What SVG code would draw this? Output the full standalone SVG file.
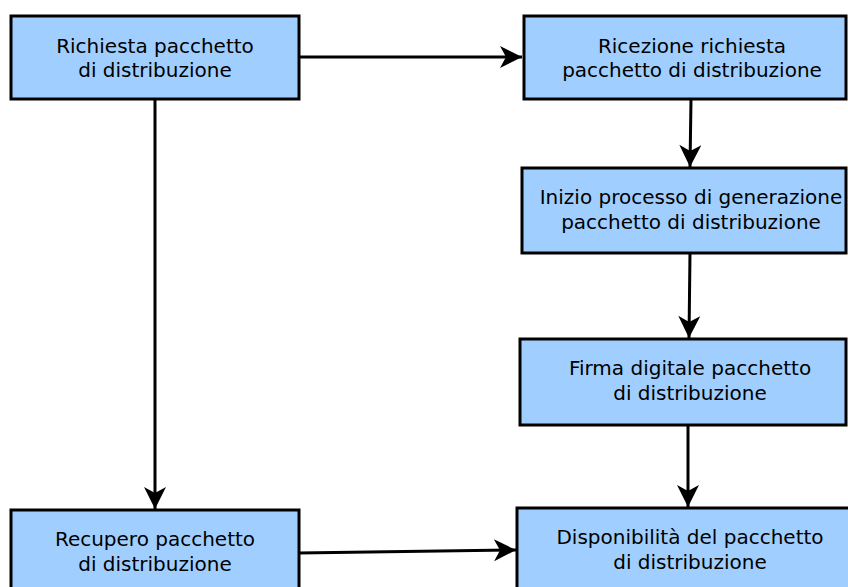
<svg xmlns="http://www.w3.org/2000/svg" width="848" height="587" viewBox="0 0 848 587">
<style>
.box{fill:#a0cfff;stroke:#000;stroke-width:3}
.t{font-family:"DejaVu Sans",sans-serif;font-size:20px;fill:#000;text-anchor:middle}
.c{fill:none;stroke:#000;stroke-width:3}
</style>
<defs>
<marker id="ah" markerUnits="userSpaceOnUse" markerWidth="26" markerHeight="26" refX="23" refY="12" orient="auto">
<path d="M23,12 L1,1 L7,12 L1,23 Z" fill="#000"/>
</marker>
</defs>
<rect width="848" height="587" fill="#fff"/>
<g id="connectors">
<line class="c" x1="299" y1="57" x2="522" y2="57" marker-end="url(#ah)"/>
<line class="c" x1="155" y1="99" x2="155" y2="509" marker-end="url(#ah)"/>
<line class="c" x1="691" y1="99" x2="690" y2="167" marker-end="url(#ah)"/>
<line class="c" x1="690" y1="253" x2="689" y2="338" marker-end="url(#ah)"/>
<line class="c" x1="688" y1="425" x2="688" y2="507" marker-end="url(#ah)"/>
<line class="c" x1="299" y1="553" x2="516" y2="550" marker-end="url(#ah)"/>
</g>
<g id="n1"><rect class="box" x="11" y="16" width="288" height="83"/>
<text class="t" x="155" y="53">Richiesta pacchetto</text><text class="t" x="155" y="77">di distribuzione</text></g>
<g id="n2"><rect class="box" x="524" y="16" width="322" height="83"/>
<text class="t" x="692" y="53">Ricezione richiesta</text><text class="t" x="692" y="77">pacchetto di distribuzione</text></g>
<g id="n3"><rect class="box" x="522" y="168" width="324" height="85"/>
<text class="t" x="691" y="204">Inizio processo di generazione</text><text class="t" x="691" y="229">pacchetto di distribuzione</text></g>
<g id="n4"><rect class="box" x="520" y="339" width="326" height="86"/>
<text class="t" x="690" y="375">Firma digitale pacchetto</text><text class="t" x="690" y="400">di distribuzione</text></g>
<g id="n5"><rect class="box" x="11" y="510" width="288" height="90"/>
<text class="t" x="155" y="546">Recupero pacchetto</text><text class="t" x="155" y="571">di distribuzione</text></g>
<g id="n6"><rect class="box" x="517" y="508" width="345" height="92"/>
<text class="t" x="690" y="544">Disponibilità del pacchetto</text><text class="t" x="690" y="569">di distribuzione</text></g>
</svg>
